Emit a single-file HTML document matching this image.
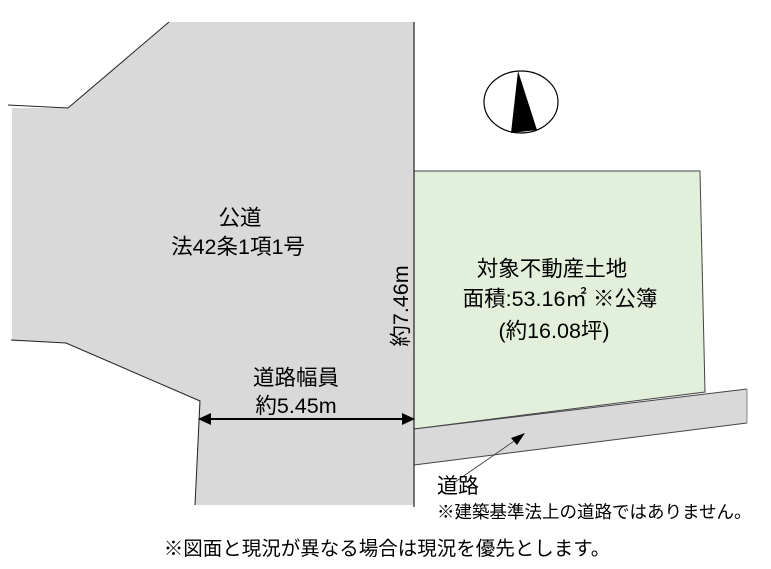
<!DOCTYPE html>
<html><head><meta charset="utf-8"><style>
html,body{margin:0;padding:0;background:#fff;}
svg text{font-family:"Liberation Sans","Noto Sans CJK JP",sans-serif;fill:#000;}
</style></head><body>
<svg width="771" height="564" viewBox="0 0 771 564" xmlns="http://www.w3.org/2000/svg">
<polygon points="169,22 414,22 414,505 195,505 199,401 66,343 12,341 12,108 68,108" fill="#d9d9d9"/>
<polyline points="169,22 68,108 8,105" fill="none" stroke="#222" stroke-width="1"/>
<polyline points="11,340 66,343 200,401 195,505" fill="none" stroke="#222" stroke-width="1"/>
<polygon points="414,171 700,171 705,392 414,429" fill="#e2efda" stroke="#444" stroke-width="1"/>
<polygon points="414,429 747,389 747,423 414,465" fill="#d9d9d9"/>
<line x1="414" y1="429" x2="747" y2="389" stroke="#444" stroke-width="1"/>
<line x1="414" y1="465" x2="747" y2="423" stroke="#444" stroke-width="1"/>
<line x1="747" y1="389" x2="747" y2="423" stroke="#888" stroke-width="1"/>
<line x1="414" y1="22" x2="414" y2="507" stroke="#222" stroke-width="1.2"/>
<ellipse cx="521" cy="102" rx="37" ry="31" fill="#fff" stroke="#000" stroke-width="1.2"/>
<polygon points="518,71 511,133 537,130" fill="#000"/>
<line x1="205" y1="419" x2="408" y2="419" stroke="#000" stroke-width="2"/>
<polygon points="198,419 211,413 211,425" fill="#000"/>
<polygon points="415,419 402,413 402,425" fill="#000"/>
<line x1="455" y1="482" x2="520" y2="437" stroke="#333" stroke-width="0.8"/>
<polygon points="525,433 511,438 517,445" fill="#000"/>
<text x="240" y="225" font-size="21.5" text-anchor="middle">公道</text>
<text x="238" y="254" font-size="21.5" text-anchor="middle">法42条1項1号</text>
<text x="296" y="385" font-size="21.5" text-anchor="middle">道路幅員</text>
<text x="296" y="413" font-size="21.5" text-anchor="middle">約5.45m</text>
<text transform="translate(408,306) rotate(-90)" font-size="21.5" text-anchor="middle">約7.46m</text>
<text x="552" y="276" font-size="21.5" text-anchor="middle">対象不動産土地</text>
<text x="560" y="306" font-size="21.5" text-anchor="middle">面積:53.16㎡ ※公簿</text>
<text x="554" y="338" font-size="21.5" text-anchor="middle">(約16.08坪)</text>
<text x="437" y="493" font-size="21">道路</text>
<text x="437" y="518" font-size="17.5">※建築基準法上の道路ではありません。</text>
<text x="387" y="555" font-size="19.5" text-anchor="middle">※図面と現況が異なる場合は現況を優先とします。</text>
</svg>
</body></html>
